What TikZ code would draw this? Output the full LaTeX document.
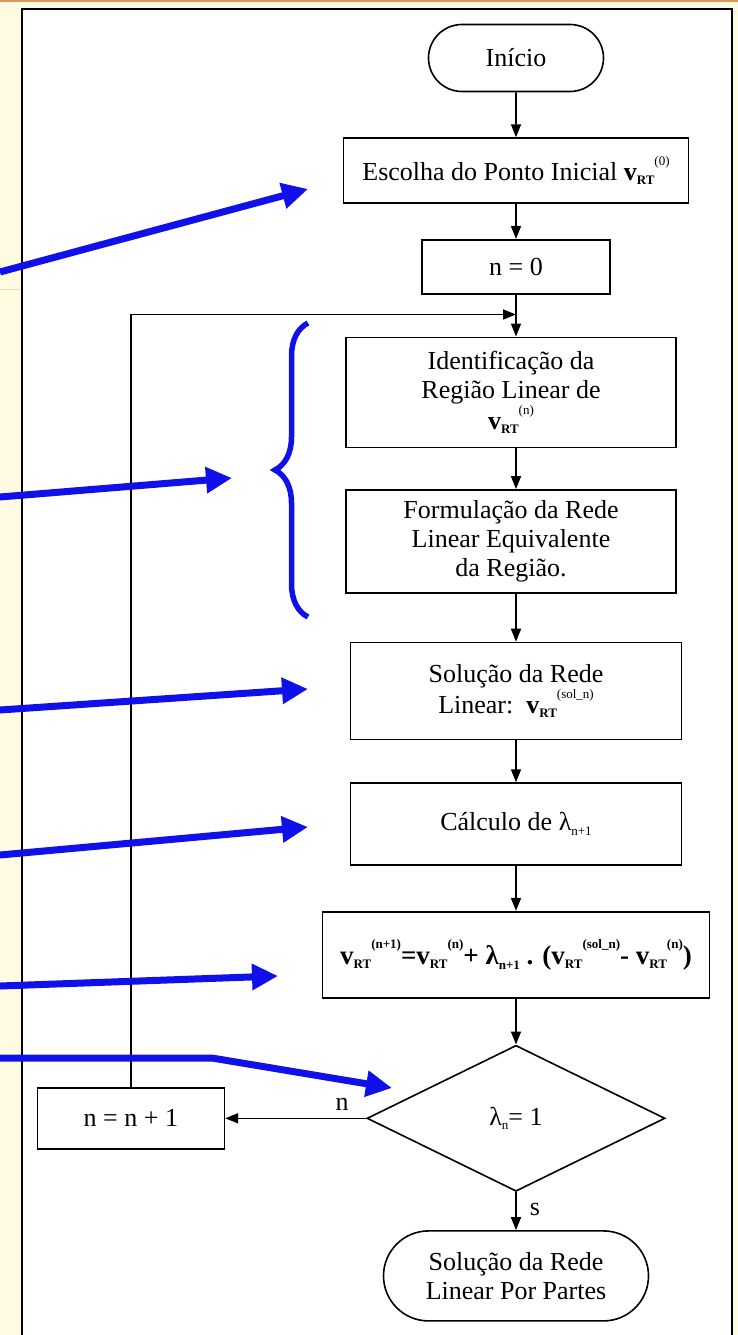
\documentclass[tikz,border=0pt]{standalone}
\usepackage{fontspec}
\setmainfont{Liberation Serif}
\usetikzlibrary{positioning,calc}
\usetikzlibrary{arrows.meta}
\usetikzlibrary{shapes.geometric,shapes.misc}
\usetikzlibrary{decorations.pathreplacing}
\definecolor{slidecream}{HTML}{FFFBE3}
\definecolor{slideorange}{HTML}{D9975F}
\definecolor{slideline}{HTML}{E9DDB5}
\definecolor{hintblue}{RGB}{16,16,235}
\newcommand{\subsz}{\fontsize{13}{13}\selectfont}
\newcommand{\vrt}[1]{\textbf{v}\raisebox{-0.35ex}{\subsz\textbf{RT}}\raisebox{1.25ex}{\subsz(#1)}}
\newcommand{\vrtb}[1]{\textbf{v}\raisebox{-0.35ex}{\subsz\textbf{RT}}\raisebox{1.25ex}{\subsz\textbf{(#1)}}}
\newcommand{\lam}[1]{λ\raisebox{-0.4ex}{\subsz #1}}
\tikzset{
        flownode/.style={align=center,inner sep=0pt,draw=black,line width=1.6pt,font=\fontsize{26}{29}\selectfont},
        % Process boxes
        node_box/.style={flownode, rectangle},
        % Start and end
        node_term/.style={flownode, rounded rectangle},
        % Decision
        node_test/.style={flownode, diamond, aspect=2},
        % Labels on the arrows
        node_label/.style={font=\fontsize{26}{29}\selectfont, inner sep=2pt},
        % Flow arrows
        edge_flow/.style={-{Triangle[length=13pt,width=10pt]}, line width=1.6pt},
        % Blue pointers
        edge_hint/.style={-{Triangle[length=26pt,width=25pt]}, hintblue, line width=7pt},
        edge_brace/.style={hintblue, line width=5.5pt, decorate, decoration={brace, amplitude=33pt}}
}

\begin{document}
\begin{tikzpicture}[x=1pt, y=-1pt]
            \useasboundingbox (0,0) rectangle (738,1335);
            % slide background
            \fill[slidecream] (0,0) rectangle (738,1335);
            \fill[slideorange] (0,0) rectangle (738,2.5);
            \draw[slideline, line width=1pt] (0,289) -- (21,289);
            \filldraw[fill=white, draw=black, line width=2.5pt] (22,9) rectangle (732,1350);

            \node[node_term, minimum width=175pt, minimum height=67pt] (start) at (516,58) {Início};
            \node[node_box, minimum width=345pt, minimum height=65pt, below=45pt of start] (choose) {Escolha do Ponto Inicial \vrt{0}};
            \node[node_box, minimum width=188pt, minimum height=54pt, below=35pt of choose] (n0) {n = 0};
            \node[node_box, minimum width=330pt, minimum height=110pt, below=42pt of n0, xshift=-5pt] (ident) {Identificação da\\ Região Linear de\\ \vrt{n}};
            \node[node_box, minimum width=330pt, minimum height=103pt, below=41pt of ident] (form) {Formulação da Rede\\ Linear Equivalente\\ da Região.};
            \node[node_box, minimum width=331pt, minimum height=97pt, below=48pt of form, xshift=5pt] (sol) {Solução da Rede\\ Linear:\ \ \vrt{sol\_n}};
            \node[node_box, minimum width=331pt, minimum height=82pt, below=42pt of sol] (calc) {Cálculo de \lam{n+1}};
            \node[node_box, minimum width=387pt, minimum height=86pt, below=45pt of calc] (upd) {\fontsize{27}{29}\selectfont\textbf{\vrtb{n+1}=\vrtb{n}+ \lam{n+1} . (\vrtb{sol\_n}- \vrtb{n})}};
            \node[node_test, minimum width=298pt, minimum height=146pt, below=46pt of upd] (test) {\lam{n}= 1};
            \node[node_term, minimum width=265pt, minimum height=90pt, below=38pt of test] (final) {Solução da Rede\\ Linear Por Partes};
            \node[node_box, minimum width=187pt, minimum height=61pt, left=141pt of test] (inc) {n = n + 1};

            \coordinate (join) at ($(n0.south)+(0,20)$);

            % flow
            \draw[edge_flow] (start) -- (choose);
            \draw[edge_flow] (choose) -- (n0);
            \draw[edge_flow] (n0.south) -- (n0.south |- ident.north);
            \draw[edge_flow] (n0.south |- ident.south) -- (n0.south |- form.north);
            \draw[edge_flow] (sol.north |- form.south) -- (sol.north);
            \draw[edge_flow] (sol) -- (calc);
            \draw[edge_flow] (calc) -- (upd);
            \draw[edge_flow] (upd) -- (test);
            \draw[edge_flow] (test.south) -- node[node_label, right, pos=0.45, xshift=11pt]{s} (final.north);
            \draw[edge_flow] (test.west) -- node[node_label, above, pos=0.17, yshift=5pt]{n} (inc.east);
            \draw[edge_flow] (inc.north) |- (join);

            % pointers from the slide
            \coordinate (hint1_from) at (0,272);
            \coordinate (hint1_to) at (308,189);
            \coordinate (hint2_from) at (0,497);
            \coordinate (hint2_to) at (232,478);
            \coordinate (hint3_from) at (0,710);
            \coordinate (hint3_to) at (308,689);
            \coordinate (hint4_from) at (0,855);
            \coordinate (hint4_to) at (308,827);
            \coordinate (hint5_from) at (0,986);
            \coordinate (hint5_to) at (278,976);
            \coordinate (hint6_from) at (0,1058);
            \coordinate (hint6_bend) at (212,1058);
            \coordinate (hint6_to) at (392,1088);
            \foreach \i in {1,...,5}
                \draw[edge_hint] (hint\i_from) -- (hint\i_to);
            \draw[edge_hint] (hint6_from) -- (hint6_bend) -- (hint6_to);
            \draw[edge_brace] (308,617) -- (308,323);
\end{tikzpicture}
\end{document}
